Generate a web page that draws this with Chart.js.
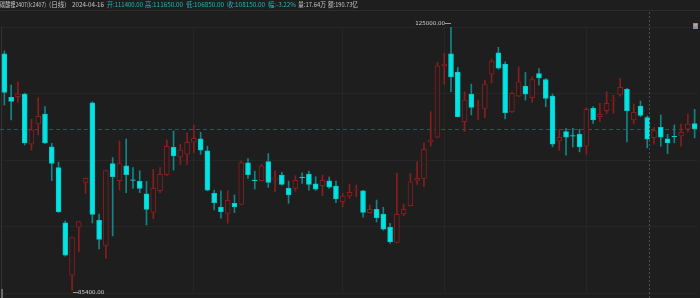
<!DOCTYPE html>
<html>
<head>
<meta charset="utf-8">
<script src="https://cdn.jsdelivr.net/npm/chart.js@4.4.1/dist/chart.umd.min.js"></script>
<style>
  html, body { margin: 0; padding: 0; background: #1e1e1e; }
  canvas { display: block; }
</style>
</head>
<body>
<canvas id="kline" width="700" height="298"></canvas>
<script>
// 碳酸锂2407 日线
const dates = [
  '2023-11-22','2023-11-23','2023-11-24','2023-11-27','2023-11-28','2023-11-29','2023-11-30',
  '2023-12-01','2023-12-04','2023-12-05','2023-12-06','2023-12-07','2023-12-08','2023-12-11',
  '2023-12-12','2023-12-13','2023-12-14','2023-12-15','2023-12-18','2023-12-19','2023-12-20',
  '2023-12-21','2023-12-22','2023-12-25','2023-12-26','2023-12-27','2023-12-28','2023-12-29',
  '2024-01-02','2024-01-03','2024-01-04','2024-01-05','2024-01-08','2024-01-09','2024-01-10',
  '2024-01-11','2024-01-12','2024-01-15','2024-01-16','2024-01-17','2024-01-18','2024-01-19',
  '2024-01-22','2024-01-23','2024-01-24','2024-01-25','2024-01-26','2024-01-29','2024-01-30',
  '2024-01-31','2024-02-01','2024-02-02','2024-02-05','2024-02-06','2024-02-07','2024-02-08',
  '2024-02-19','2024-02-20','2024-02-21','2024-02-22','2024-02-23','2024-02-26','2024-02-27',
  '2024-02-28','2024-02-29','2024-03-01','2024-03-04','2024-03-05','2024-03-06','2024-03-07',
  '2024-03-08','2024-03-11','2024-03-12','2024-03-13','2024-03-14','2024-03-15','2024-03-18',
  '2024-03-19','2024-03-20','2024-03-21','2024-03-22','2024-03-25','2024-03-26','2024-03-27',
  '2024-03-28','2024-03-29','2024-04-01','2024-04-02','2024-04-03','2024-04-08','2024-04-09',
  '2024-04-10','2024-04-11','2024-04-12','2024-04-15','2024-04-16','2024-04-17','2024-04-18',
  '2024-04-19','2024-04-22','2024-04-23','2024-04-24','2024-04-25'
];

const opens = [
  121000,114450,114550,114950,107400,110450,111950,107000,103900,95550,
  87650,94900,101650,113650,95950,92150,104500,101900,104150,102050,
  101800,99950,97150,100400,102800,106950,105500,105900,107700,108200,
  106400,100000,97950,97000,98500,98350,104600,102000,101900,104800,
  102150,102750,100750,100750,102450,102900,101450,101150,101900,101100,
  98750,99600,100450,100400,97100,97600,96900,94900,92600,96900,
  98150,101950,102250,107750,108450,119200,121000,118250,110800,114950,
  113250,112800,117950,121150,119450,112300,114650,116150,114400,118050,
  117150,114650,107900,109300,108700,108900,107100,112800,111550,112450,
  114000,114900,115650,111050,113150,111400,108400,109950,108200,108600,
  108650,109650,110500
];
const highs = [
  121450,116300,116800,115100,111150,114400,113050,107550,104700,95850,
  93400,95800,102300,113800,96900,103500,105400,107900,108200,103900,
  103400,101800,103600,103900,108050,109400,107400,109150,110300,109200,
  107100,100500,100400,100400,99750,104900,105250,103350,104400,106000,
  103400,103150,101850,102650,103100,103350,102500,102750,102450,101850,
  100000,101400,101250,100450,98250,99000,97900,95500,103000,98400,
  103000,104750,107600,112300,119750,121100,125000,118950,115300,116450,
  114050,117050,120200,122000,119800,115200,119050,118200,117550,118800,
  117300,114950,109650,109800,109800,109650,112900,113050,113550,115300,
  114800,117300,115800,113450,113900,111650,109950,111800,108900,110300,
  110450,111950,112650
];
const lows = [
  113300,111050,113750,107300,106500,108800,107500,101900,97100,90550,
  85400,91200,100000,95550,91650,90200,93600,100500,100100,100750,
  100100,95250,96200,100100,102700,103500,104350,104350,106100,105900,
  100400,97500,96250,95500,97100,98300,102250,100650,101850,100900,
  100250,101250,98500,100350,101500,100500,100450,99650,100750,98600,
  98000,99250,99500,96400,97000,95700,94450,92450,92550,96600,
  98100,101350,101000,107100,108400,116450,115300,111500,109300,111800,
  111050,111400,116650,118700,111200,112150,114550,114050,113700,116300,
  113050,107000,106500,105750,107000,106250,105900,110550,110800,112050,
  112050,114650,107750,110450,111550,106850,107400,107100,106000,107600,
  107100,109300,108350
];
const closes = [
  115200,113850,114950,107600,109550,111600,107600,104500,97250,90700,
  93350,95750,102250,96850,93050,103450,102500,104500,102800,101950,
  100750,97600,100750,102850,107100,105650,106500,107700,108300,106500,
  100500,98600,97250,98950,97950,104650,102800,101900,104100,101650,
  102350,101350,99750,101950,102350,101350,100650,101950,100950,99150,
  99600,100150,100550,97150,97600,96350,94600,92700,96850,97600,
  101750,102250,106650,108050,119200,119450,117550,111550,114050,112950,
  113350,116450,119900,118850,112150,115050,116800,114950,117150,117400,
  114300,107400,108450,108450,108600,107000,112650,111050,111900,113550,
  114100,115950,112450,112200,111750,108150,109450,108450,107600,108550,
  109200,110450,109750
];

// header extras not derivable from OHLC
const selIndex = 95;
const volText = '17.64万';
const amtText = '190.73亿';
const monthStarts = [28, 50, 65, 86];

const BG = '#1e1e1e';
const GRID = '#262626';
const UP = '#8a1d1d';
const DOWN = '#00e4e4';
const DOWN_WICK = '#138585';
const TEAL_TXT = '#1fb8b8';
const yMin = 85000, yMax = 125050;

const isUp = closes.map((c, i) => c >= opens[i]);

const klinePlugin = {
  id: 'klineExtras',
  beforeDraw(chart) {
    const ctx = chart.ctx;
    ctx.save();
    ctx.fillStyle = BG;
    ctx.fillRect(0, 0, chart.width, chart.height);
    ctx.restore();
  },
  beforeDatasetsDraw(chart) {
    // dashed last-price line
    const ctx = chart.ctx;
    const y = Math.round(chart.scales.y.getPixelForValue(closes[closes.length - 1])) + 0.5;
    ctx.save();
    ctx.strokeStyle = '#2b5656';
    ctx.lineWidth = 1;
    ctx.setLineDash([4, 3]);
    ctx.beginPath();
    ctx.moveTo(0, y);
    ctx.lineTo(chart.width, y);
    ctx.stroke();
    ctx.restore();
  },
  afterDatasetsDraw(chart) {
    const ctx = chart.ctx;
    const xs = chart.scales.x, ys = chart.scales.y;
    ctx.save();

    // crosshair
    const cx = Math.round(xs.getPixelForValue(selIndex)) + 2.5;
    ctx.strokeStyle = '#505050';
    ctx.lineWidth = 1;
    ctx.setLineDash([2, 2]);
    ctx.beginPath();
    ctx.moveTo(cx, 12);
    ctx.lineTo(cx, chart.height);
    ctx.stroke();
    ctx.setLineDash([]);

    // highest / lowest labels
    let hi = 0, lo = 0;
    highs.forEach((v, i) => { if (v > highs[hi]) hi = i; });
    lows.forEach((v, i) => { if (v < lows[lo]) lo = i; });
    ctx.font = '5.5px "DejaVu Sans", sans-serif';
    ctx.fillStyle = '#cfcfcf';
    ctx.strokeStyle = '#9a9a9a';
    ctx.textBaseline = 'middle';

    const hx = Math.round(xs.getPixelForValue(hi)), hy = Math.round(ys.getPixelForValue(highs[hi])) - 3.5;
    ctx.beginPath(); ctx.moveTo(hx - 6, hy); ctx.lineTo(hx, hy); ctx.stroke();
    ctx.textAlign = 'right';
    ctx.fillText(highs[hi].toFixed(2), hx - 6, hy);

    const lx = Math.round(xs.getPixelForValue(lo)), ly = Math.round(ys.getPixelForValue(lows[lo])) + 2.5;
    ctx.beginPath(); ctx.moveTo(lx + 1, ly); ctx.lineTo(lx + 6, ly); ctx.stroke();
    ctx.textAlign = 'left';
    ctx.fillText(lows[lo].toFixed(2), lx + 6, ly);

    // header
    ctx.fillStyle = BG;
    ctx.fillRect(0, 0, chart.width, 10);
    ctx.strokeStyle = '#2c2c2c';
    ctx.beginPath(); ctx.moveTo(0, 10.5); ctx.lineTo(chart.width, 10.5); ctx.stroke();

    const prev = closes[selIndex - 1];
    const pct = (closes[selIndex] - prev) / prev * 100;
    const parts = [
      ['碳酸锂2407(lc2407)', 0, 46, '#c4c4c4'],
      ['(日线)', 49, 18, '#c4c4c4'],
      [dates[selIndex], 72, 32, '#c4c4c4'],
      ['开:' + opens[selIndex].toFixed(2), 107, 36, TEAL_TXT],
      ['高:' + highs[selIndex].toFixed(2), 145, 38, TEAL_TXT],
      ['低:' + lows[selIndex].toFixed(2), 186, 38, TEAL_TXT],
      ['收:' + closes[selIndex].toFixed(2), 227, 38, TEAL_TXT],
      ['幅:' + pct.toFixed(2) + '%', 268, 28, TEAL_TXT],
      ['量:' + volText, 298, 28, '#c4c4c4'],
      ['额:' + amtText, 328, 30, '#c4c4c4']
    ];
    ctx.font = '6.5px "Noto Sans CJK SC", sans-serif';
    ctx.textAlign = 'left';
    ctx.textBaseline = 'middle';
    parts.forEach(([t, x, w, c]) => { ctx.fillStyle = c; ctx.fillText(t, x, 5, w); });

    // little bits of chrome
    ctx.fillStyle = '#6d6d6d';
    ctx.fillRect(1, 289, 2, 9);
    ctx.fillStyle = '#8e8aa6';
    ctx.fillRect(693, 23, 5, 6);
    ctx.fillStyle = '#c9a27a';
    ctx.fillRect(694, 24, 3, 2);
    ctx.restore();
  }
};

new Chart(document.getElementById('kline'), {
  type: 'bar',
  data: {
    labels: dates,
    datasets: [
      {
        label: 'body',
        data: dates.map((_, i) => [opens[i], closes[i]]),
        backgroundColor: isUp.map(u => u ? BG : DOWN),
        borderColor: isUp.map(u => u ? UP : '#0cc6c6'),
        borderWidth: 1,
        borderSkipped: false,
        barThickness: 5,
        grouped: false,
        order: 0
      },
      {
        label: 'wick',
        data: dates.map((_, i) => [lows[i], highs[i]]),
        backgroundColor: isUp.map(u => u ? UP : DOWN_WICK),
        borderWidth: 0,
        barThickness: 1,
        grouped: false,
        order: 1
      }
    ]
  },
  options: {
    responsive: false,
    animation: false,
    layout: { padding: { top: 27, bottom: 5, left: 1, right: 2 } },
    plugins: { legend: { display: false }, tooltip: { enabled: false } },
    scales: {
      x: {
        ticks: { display: false, autoSkip: false },
        grid: {
          offset: false,
          drawTicks: false,
          color: ctx => monthStarts.includes(ctx.index) ? GRID : 'transparent'
        },
        border: { display: false }
      },
      y: {
        min: yMin,
        max: yMax,
        afterBuildTicks(scale) {
          const step = (yMax - yMin) / 4;
          scale.ticks = [0, 1, 2, 3, 4].map(i => ({ value: yMin + i * step }));
        },
        ticks: { display: false },
        grid: { color: GRID, drawTicks: false },
        border: { display: true, color: '#333333' }
      }
    }
  },
  plugins: [klinePlugin]
});
</script>
</body>
</html>
